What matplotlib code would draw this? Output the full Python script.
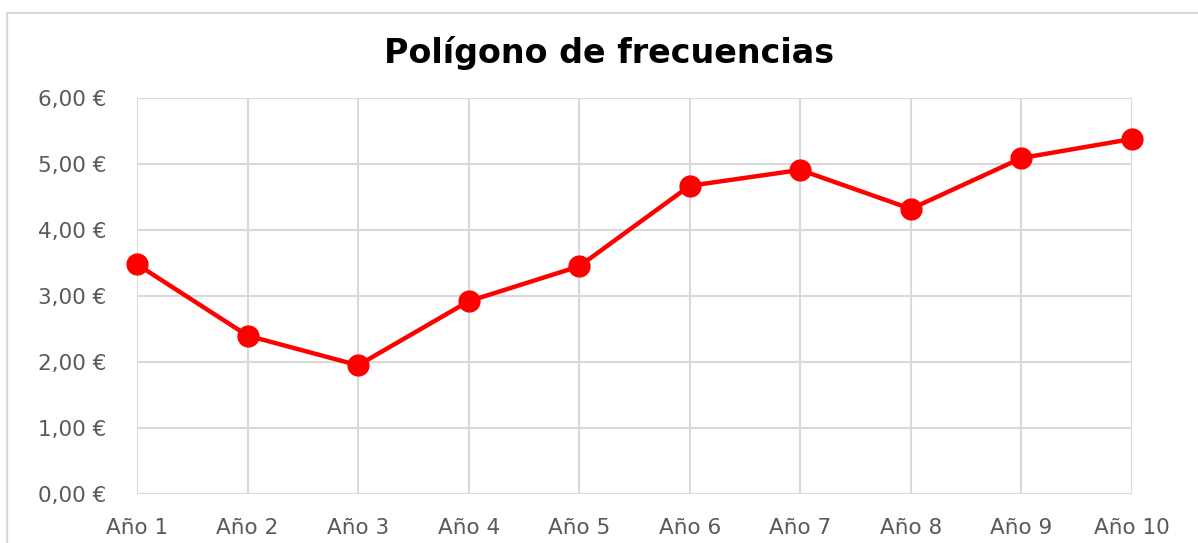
import matplotlib
matplotlib.use("Agg")
import matplotlib.pyplot as plt
from matplotlib.patches import Rectangle

categories = ["Año 1", "Año 2", "Año 3", "Año 4", "Año 5",
              "Año 6", "Año 7", "Año 8", "Año 9", "Año 10"]
values = [3.48, 2.40, 1.95, 2.92, 3.45, 4.67, 4.91, 4.32, 5.09, 5.38]
y_ticks = [0, 1, 2, 3, 4, 5, 6]
y_tick_labels = ["0,00 €", "1,00 €", "2,00 €", "3,00 €", "4,00 €", "5,00 €", "6,00 €"]
title = "Polígono de frecuencias"

plt.rcParams['font.family'] = ['DejaVu Sans']

W, H = 1198, 543
fig = plt.figure(figsize=(W / 100, H / 100), dpi=100)
fig.patch.set_facecolor("white")

# outer chart frame
fig.patches.append(Rectangle((7 / W, -0.05), 1.2, 1 - 13 / H + 0.05,
                             transform=fig.transFigure, fill=False,
                             edgecolor="#d9d9d9", linewidth=1.6))

ax = fig.add_axes([137 / W, 1 - 494 / H, (1132 - 137) / W, (494 - 98) / H])
x = list(range(len(categories)))
ax.plot(x, values, color="#ff0000", linewidth=3.2, marker="o",
        markersize=15, markerfacecolor="#ff0000", markeredgecolor="#ff0000",
        zorder=3, clip_on=False)

ax.set_xlim(0, len(categories) - 1)
ax.set_ylim(0, 6)
ax.set_xticks(x)
ax.set_xticklabels(categories)
ax.set_yticks(y_ticks)
ax.set_yticklabels(y_tick_labels)

for s in ax.spines.values():
    s.set_visible(False)
ax.grid(True, color="#d9d9d9", linewidth=1.5)
ax.set_axisbelow(True)
ax.tick_params(axis="both", length=0, colors="#595959", labelsize=15.5)
ax.tick_params(axis="y", pad=22)
ax.tick_params(axis="x", pad=17)

fig.text(609.5 / W, 1 - 63.3 / H, title, ha="center", va="baseline",
         fontsize=24, fontweight="bold", color="#000000")

fig.savefig("out.png", dpi=100)
